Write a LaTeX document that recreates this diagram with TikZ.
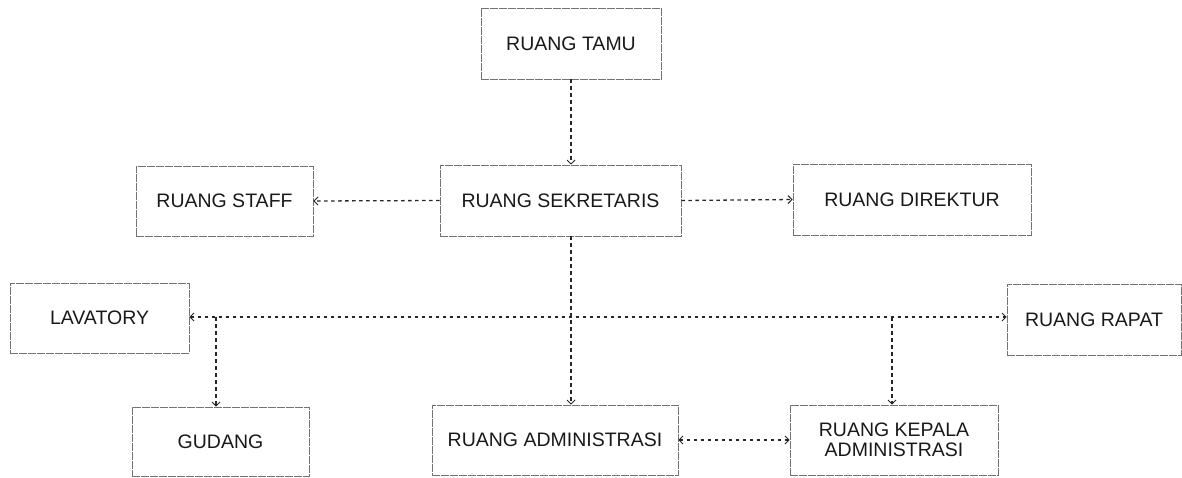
\documentclass[tikz,border=0pt]{standalone}
\usepackage{fontspec}
\setmainfont{Liberation Sans}
\usetikzlibrary{arrows.meta}
\begin{document}
\begin{tikzpicture}[x=1pt,y=-1pt,
  room/.style={draw=black!55, line width=0.6pt, dash pattern=on 8pt off 1pt, rectangle, inner sep=0pt,
    font=\fontsize{19.5}{20}\selectfont, align=center, text=black!90},
  link/.style={line width=1.3pt, dash pattern=on 3.5pt off 3.5pt, black!85,
    -{Straight Barb[length=4pt,width=8pt,line width=1pt]}},
  blink/.style={link, {Straight Barb[length=4pt,width=8pt,line width=1pt]}-{Straight Barb[length=4pt,width=8pt,line width=1pt]}}]
\useasboundingbox (0,0) rectangle (1182,477);
\node[room, minimum width=180pt, minimum height=71pt] (tamu) at (571,43.5) {RUANG TAMU};
\node[room, minimum width=241pt, minimum height=71pt] (sek) at (560.5,200.5) {RUANG SEKRETARIS};
\node[room, minimum width=177pt, minimum height=70pt] (staff) at (224.5,201) {RUANG STAFF};
\node[room, minimum width=238pt, minimum height=71pt] (dir) at (912,199.5) {RUANG DIREKTUR};
\node[room, minimum width=179pt, minimum height=70pt] (lav) at (99.5,318) {LAVATORY};
\node[room, minimum width=174pt, minimum height=71pt] (rap) at (1094,319.5) {RUANG RAPAT};
\node[room, minimum width=177pt, minimum height=69pt] (gud) at (220.5,441.5) {GUDANG};
\node[room, minimum width=246pt, minimum height=70pt] (adm) at (555,440) {RUANG ADMINISTRASI};
\node[room, minimum width=208pt, minimum height=70pt] (kep) at (894,440) {RUANG KEPALA\\ADMINISTRASI};
\coordinate (j) at (571,317);
\coordinate (jg) at (216,317);
\coordinate (jk) at (892,317);
\draw[link] (tamu.south) -- (sek.north -| tamu.south);
\draw[link] (sek.west) -- (staff.east);
\draw[link] (sek.east) -- (dir.west);
\draw[link] (sek.south -| j) -- (adm.north -| j);
\draw[blink] (lav.east |- j) -- (rap.west |- j);
\draw[link] (jg) -- (gud.north -| jg);
\draw[link] (jk) -- (kep.north -| jk);
\draw[blink] (adm.east) -- (kep.west);
\end{tikzpicture}
\end{document}
